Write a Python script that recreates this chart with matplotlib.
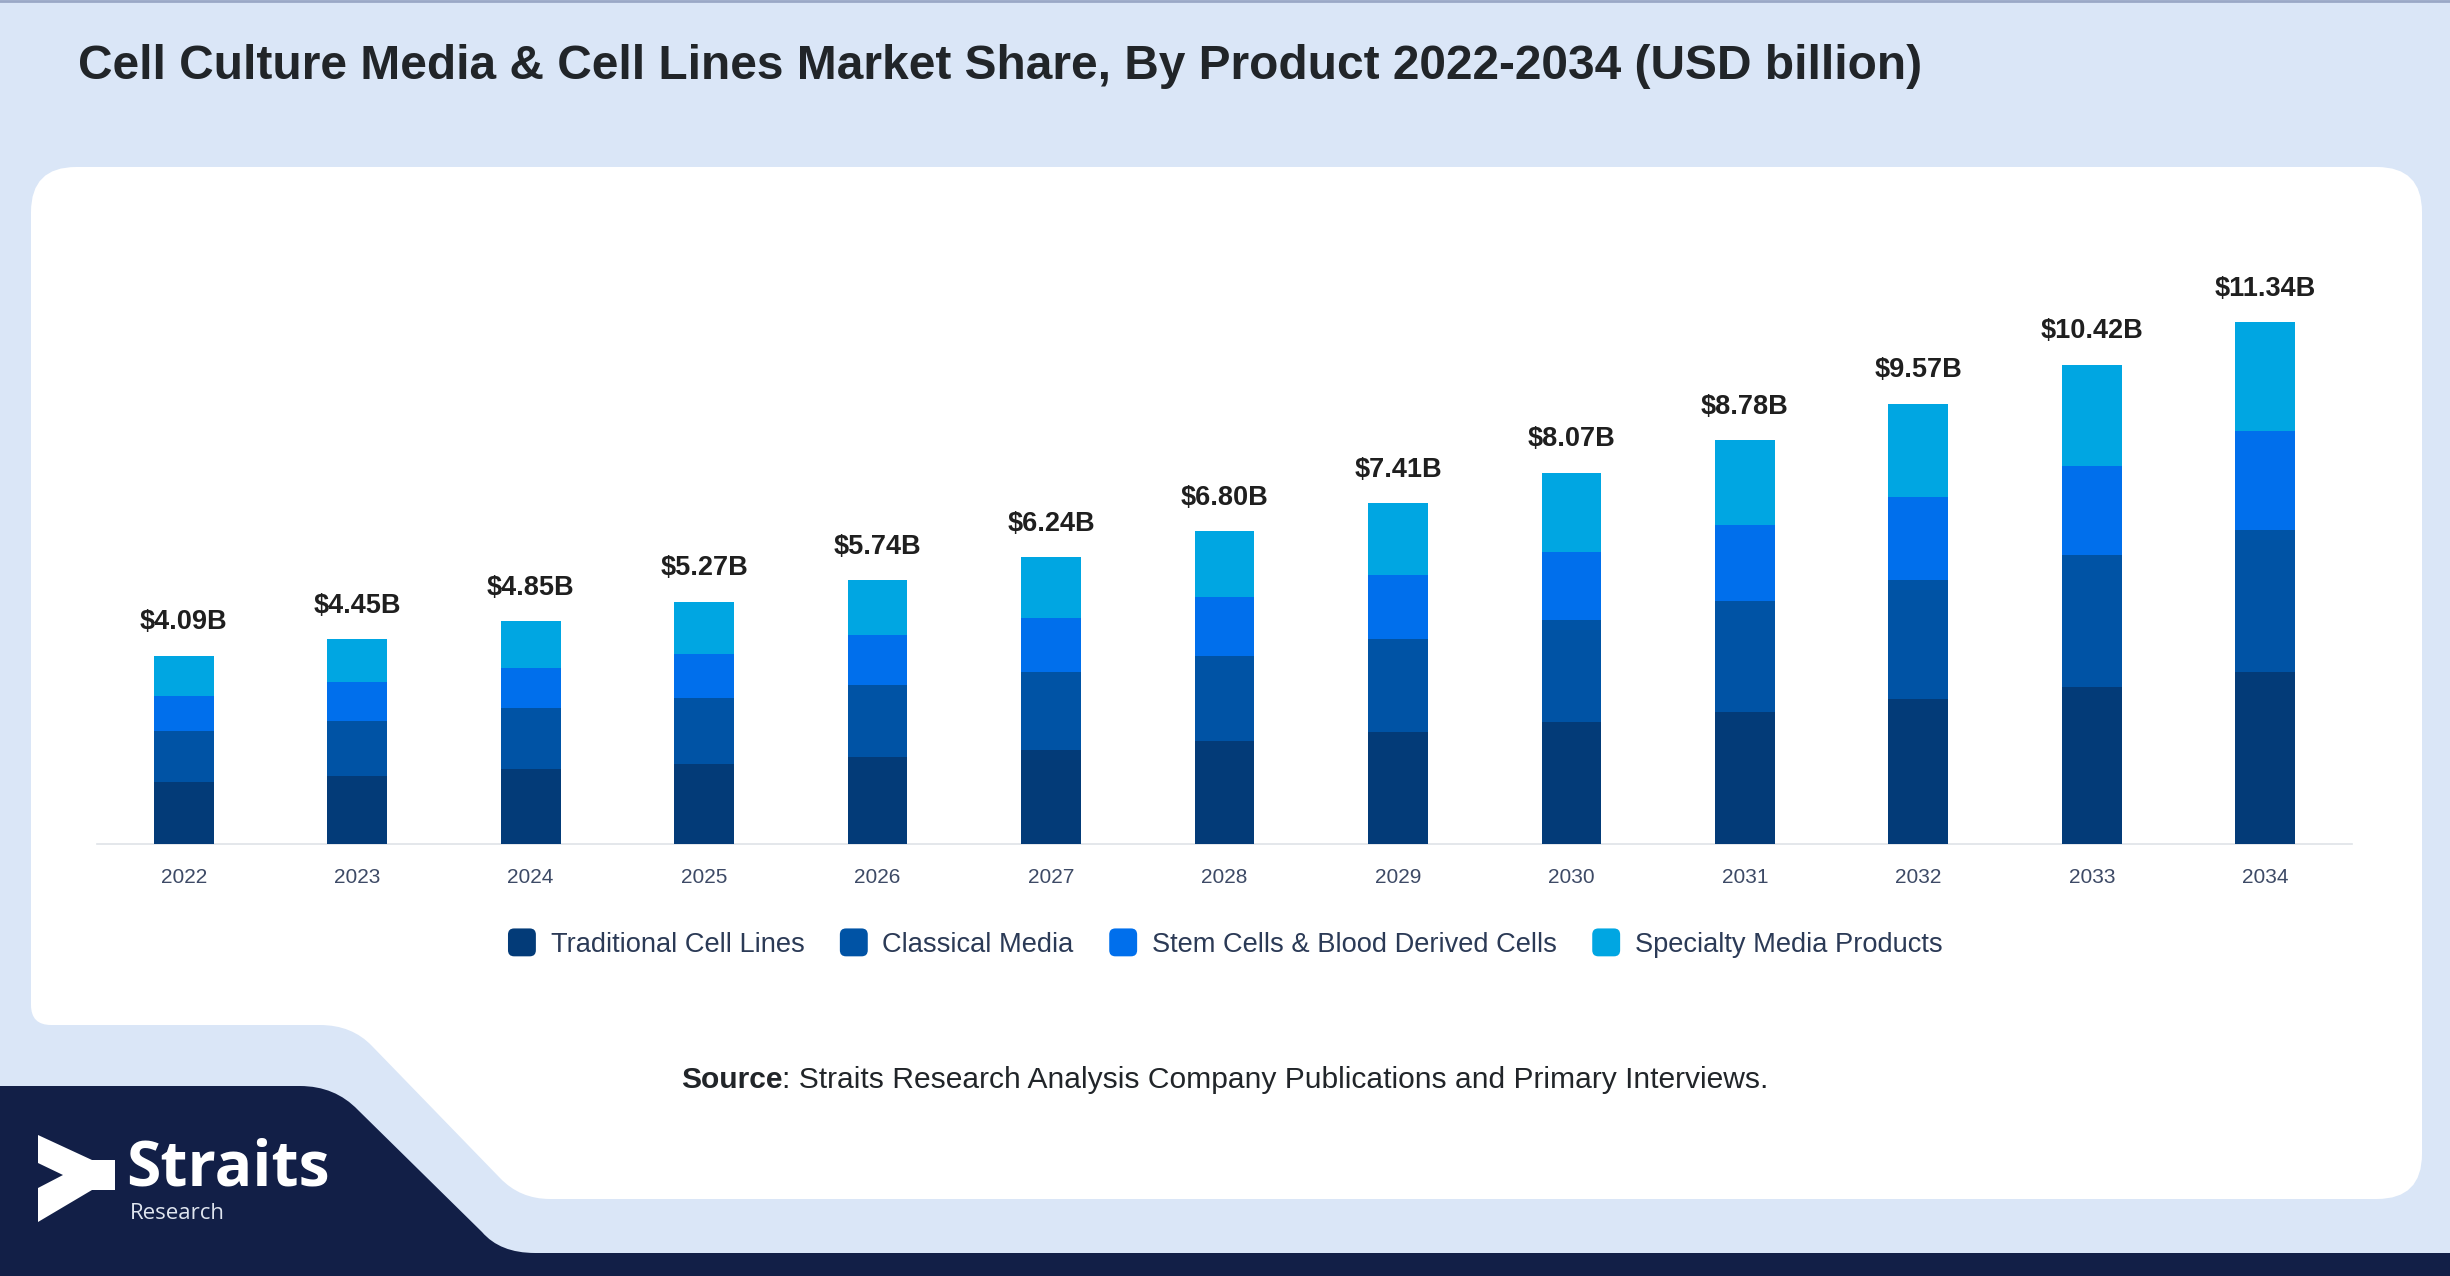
import numpy as np
import matplotlib
matplotlib.use("Agg")
import matplotlib.pyplot as plt
from matplotlib.patches import FancyBboxPatch, PathPatch, Polygon, Patch
from matplotlib.path import Path
from matplotlib.legend_handler import HandlerPatch

plt.rcParams['font.family'] = ['Liberation Sans', 'DejaVu Sans']

# data (USD billion)
years = ['2022', '2023', '2024', '2025', '2026', '2027', '2028',
         '2029', '2030', '2031', '2032', '2033', '2034']
totals = [4.09, 4.45, 4.85, 5.27, 5.74, 6.24, 6.80, 7.41, 8.07, 8.78, 9.57, 10.42, 11.34]
traditional = [1.35, 1.47, 1.63, 1.74, 1.90, 2.05, 2.24, 2.44, 2.66, 2.86, 3.15, 3.42, 3.74]
classical = [1.11, 1.21, 1.32, 1.43, 1.56, 1.70, 1.84, 2.01, 2.21, 2.43, 2.60, 2.87, 3.09]
stem = [0.76, 0.84, 0.88, 0.96, 1.09, 1.17, 1.29, 1.40, 1.48, 1.64, 1.80, 1.93, 2.14]
specialty = [0.87, 0.93, 1.02, 1.14, 1.19, 1.32, 1.43, 1.56, 1.72, 1.85, 2.02, 2.20, 2.37]

series_names = ['Traditional Cell Lines', 'Classical Media',
                'Stem Cells & Blood Derived Cells', 'Specialty Media Products']
series_colors = ['#033b78', '#0053a5', '#006fec', '#00a6e2']

title = 'Cell Culture Media & Cell Lines Market Share, By Product 2022-2034 (USD billion)'

W, H = 2450, 1276
BG = '#dae6f7'
NAVY = '#121f47'

fig = plt.figure(figsize=(W / 100, H / 100), dpi=100)
fig.patch.set_facecolor(BG)

# background layer in pixel coords (y down)
bg = fig.add_axes([0, 0, 1, 1], zorder=0)
bg.set_xlim(0, W)
bg.set_ylim(H, 0)
bg.axis('off')

# white card with the cut corner bottom left
M, L, C = Path.MOVETO, Path.LINETO, Path.CURVE3
R = 45
verts = [(31, 167 + R), (31, 1025 - 20), (31, 1025), (51, 1025),
         (320, 1025), (352, 1025), (372, 1046),
         (500, 1178), (520, 1199), (550, 1199),
         (2422 - R, 1199), (2422, 1199), (2422, 1199 - R),
         (2422, 167 + R), (2422, 167), (2422 - R, 167),
         (31 + R, 167), (31, 167), (31, 167 + R)]
codes = [M, L, C, C, L, C, C, L, C, C, L, C, C, L, C, C, L, C, C]
bg.add_patch(PathPatch(Path(verts, codes), facecolor='white', edgecolor='none'))

# dark navy footer
verts = [(0, 1086), (300, 1086), (335, 1086), (358, 1110),
         (482, 1232), (500, 1253), (535, 1253),
         (W, 1253), (W, H), (0, H), (0, 1086)]
codes = [M, L, C, C, L, C, C, L, L, L, L]
bg.add_patch(PathPatch(Path(verts, codes), facecolor=NAVY, edgecolor='none'))
bg.plot([0, W], [1, 1], color='#9aa8c6', lw=2)

# logo
arrow = [(38, 1135), (92, 1160), (115, 1160), (115, 1190), (92, 1190),
         (38, 1222), (38, 1188), (63, 1175), (38, 1163)]
bg.add_patch(Polygon(arrow, closed=True, facecolor='white', edgecolor='none'))
bg.text(126, 1186, 'Straits', color='white', fontsize=45, fontweight='bold',
        family='Open Sans', va='baseline', ha='left')
bg.text(130, 1219, 'Research', color='#dfe5ef', fontsize=16,
        family='Open Sans', va='baseline', ha='left')

# title
fig.text(78 / W, 1 - 79 / H, title, fontsize=34.5, fontweight='bold',
         color='#212529', va='baseline', ha='left')

# chart
ax = fig.add_axes([97 / W, 1 - 844 / H, (2352 - 97) / W, (844 - 246) / H], zorder=2)
ax.patch.set_alpha(0)
x = np.arange(len(years))
bottom = np.zeros(len(years))
for vals, name, col in zip([traditional, classical, stem, specialty], series_names, series_colors):
    ax.bar(x, vals, width=0.345, bottom=bottom, color=col, label=name, zorder=3)
    bottom += np.array(vals)

for xi, top, tot in zip(x, bottom, totals):
    ax.annotate(f'${tot:.2f}B', xy=(xi, top), xytext=(0, 19), textcoords='offset points',
                ha='center', va='baseline', fontsize=19.5, fontweight='bold', color='#1f1f1f')

ax.set_xlim(-0.5, 12.5)
ax.set_ylim(0, 13)
ax.set_xticks(x)
ax.set_xticklabels(years, fontsize=15, color='#3d4a66')
ax.tick_params(axis='x', length=0, pad=17)
ax.set_yticks([])
for s in ['top', 'right', 'left']:
    ax.spines[s].set_visible(False)
ax.spines['bottom'].set_color('#dfe3e8')
ax.spines['bottom'].set_linewidth(1.2)


class RoundBox(HandlerPatch):
    def create_artists(self, legend, orig_handle, xdescent, ydescent, width, height, fontsize, trans):
        side = min(width, height)
        x0 = -xdescent + (width - side) / 2
        y0 = -ydescent + (height - side) / 2
        p = FancyBboxPatch((x0, y0), side, side,
                           boxstyle=f'round,pad=0,rounding_size={side * 0.22}',
                           facecolor=orig_handle.get_facecolor(), edgecolor='none',
                           transform=trans)
        return [p]


handles = [Patch(facecolor=c, label=n) for c, n in zip(series_colors, series_names)]
fig.legend(handles=handles, loc='center', bbox_to_anchor=(1224 / W, 1 - 943 / H),
           ncol=4, frameon=False, fontsize=19.6, labelcolor='#2b3a56',
           handlelength=1.2, handleheight=1.2, handletextpad=0.45,
           columnspacing=1.22, borderpad=0,
           handler_map={Patch: RoundBox()})

# source line
src = fig.text(681 / W, 1 - 1088 / H, 'Source', fontsize=21.6, fontweight='bold',
               color='#212529', va='baseline', ha='left')
ax.annotate(': Straits Research Analysis Company Publications and Primary Interviews.',
            xy=(1, 0), xycoords=src, va='bottom', ha='left', fontsize=21.6,
            color='#212529', annotation_clip=False)

fig.savefig('out.png', dpi=100, facecolor=BG)
